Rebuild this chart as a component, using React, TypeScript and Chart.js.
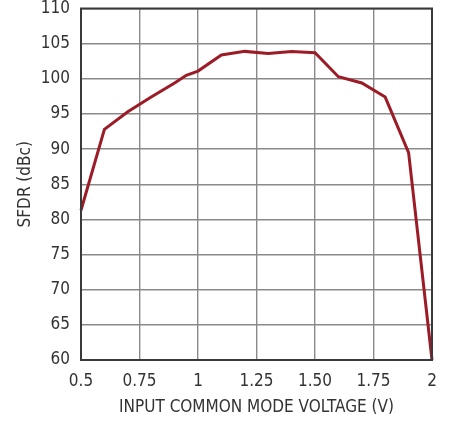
import React, { useEffect, useRef } from "react";
import { Chart, registerables } from "chart.js";

Chart.register(...registerables);

const xValues = [0.5, 0.6, 0.7, 0.8, 0.9, 0.95, 1.0, 1.1, 1.2, 1.3, 1.4, 1.5, 1.6, 1.7, 1.8, 1.9, 2.0];
const sfdrValues = [81.3, 92.8, 95.3, 97.4, 99.4, 100.5, 101.1, 103.4, 103.9, 103.6, 103.9, 103.7, 100.3, 99.4, 97.4, 89.5, 60];
const xTickLabels = ["0.5", "0.75", "1", "1.25", "1.50", "1.75", "2"];
const xTitle = "INPUT COMMON MODE VOLTAGE (V)";
const yTitle = "SFDR (dBc)";

const FONT = "'DejaVu Sans', sans-serif";
const mkFont = (size: number) => ({ family: FONT, size, weight: "condensed" as any, lineHeight: 1 });

export default function App() {
  const ref = useRef<HTMLCanvasElement | null>(null);
  useEffect(() => {
    document.body.style.margin = "0";
    if (!ref.current) return;
    const frame = {
      id: "frame",
      afterDatasetsDraw(chart: any) {
        const { ctx, chartArea: a } = chart;
        ctx.save();
        ctx.strokeStyle = "#3a3a3a";
        ctx.lineWidth = 2;
        ctx.strokeRect(a.left, a.top, a.right - a.left, a.bottom - a.top);
        ctx.restore();
      },
    };
    const chart = new Chart(ref.current, {
      type: "line",
      data: {
        datasets: [
          {
            data: xValues.map((x, i) => ({ x, y: sfdrValues[i] })),
            borderColor: "#9b1c26",
            borderWidth: 3,
            pointRadius: 0,
            tension: 0,
            clip: false as any,
          },
        ],
      },
      options: {
        animation: false,
        responsive: false,
        devicePixelRatio: 1,
        layout: { padding: { top: 0, right: 21, left: 0, bottom: 0 } },
        plugins: { legend: { display: false }, tooltip: { enabled: false } },
        scales: {
          x: {
            type: "linear",
            min: 0.5,
            max: 2,
            afterFit: (s: any) => { s.height = 65; },
            afterBuildTicks: (s: any) => {
              s.ticks = xTickLabels.map((_, i) => ({ value: 0.5 + i * 0.25 }));
            },
            ticks: {
              callback: (_v: any, i: number) => xTickLabels[i],
              font: mkFont(17),
              color: "#333",
              padding: 13,
              maxRotation: 0,
            },
            grid: { color: "#8a8a8a", lineWidth: 1.4, drawTicks: false },
            border: { display: false },
            title: {
              display: true,
              text: xTitle,
              font: mkFont(17),
              color: "#333",
              padding: { top: 0, bottom: 9 },
            },
          },
          y: {
            type: "linear",
            min: 60,
            max: 110,
            afterFit: (s: any) => { s.width = 81; },
            ticks: {
              stepSize: 5,
              font: mkFont(17),
              color: "#333",
              padding: 0,
            },
            grid: { color: "#8a8a8a", lineWidth: 1.4, drawTicks: true, tickLength: 11, tickColor: "rgba(0,0,0,0)" },
            border: { display: false },
            title: {
              display: true,
              text: yTitle,
              font: mkFont(17),
              color: "#333",
              padding: { top: 17, bottom: 0 },
            },
          },
        },
      },
      plugins: [frame],
    });
    return () => chart.destroy();
  }, []);
  return <canvas ref={ref} width={453} height={425} style={{ display: "block" }} />;
}
